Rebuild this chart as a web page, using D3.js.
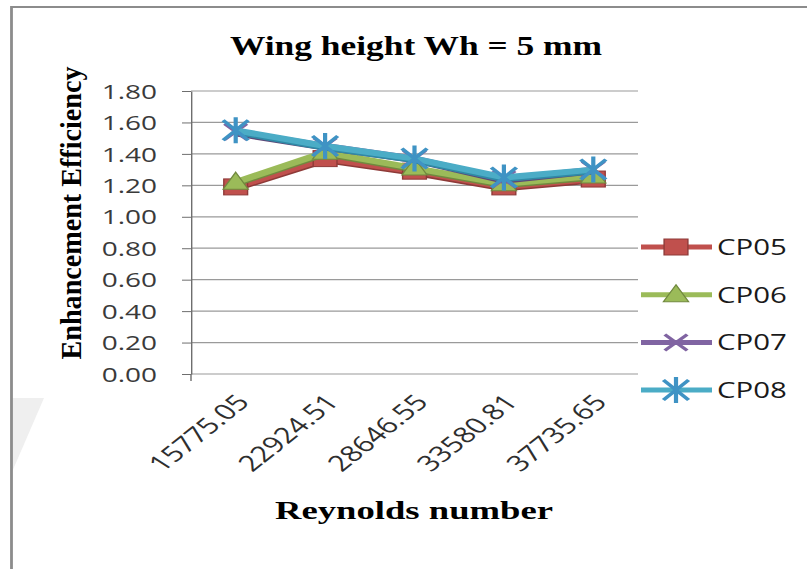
<!DOCTYPE html>
<html>
<head>
<meta charset="utf-8">
<script src="https://cdn.jsdelivr.net/npm/d3@7"></script>
<style>
  body { margin: 0; background: #fff; }
  svg { display: block; }
</style>
</head>
<body>
<div id="chart"></div>
<script>
// data
const categories = ['15775.05', '22924.51', '28646.55', '33580.81', '37735.65'];
const seriesNames = ['CP05', 'CP06', 'CP07', 'CP08'];
const cp05 = [1.19, 1.37, 1.29, 1.19, 1.24];
const cp06 = [1.22, 1.41, 1.31, 1.21, 1.26];
const cp07 = [1.54, 1.45, 1.37, 1.24, 1.30];
const cp08 = [1.55, 1.45, 1.37, 1.25, 1.30];
const yTicks = [0, 0.2, 0.4, 0.6, 0.8, 1.0, 1.2, 1.4, 1.6, 1.8];

const colors = ['#c0504d', '#9bbb59', '#8064a2', '#4bacc6'];
const darker = ['#8e3a38', '#71893f', '#5c4878', '#2f8aa6'];
const markers = ['square', 'triangle', 'cross', 'star'];

const width = 807;
const height = 569;
// the original picture is stretched sideways, so draw narrow and let the viewBox stretch it
const K = 1.4;
const fx = v => v / K;

const svg = d3.select('#chart')
  .append('svg')
  .attr('width', width)
  .attr('height', height)
  .attr('viewBox', `0 0 ${width / K} ${height}`)
  .attr('preserveAspectRatio', 'none');

svg.append('rect')
  .attr('width', width / K).attr('height', height)
  .attr('fill', '#fff');

// faint page shading at bottom left
svg.append('path')
  .attr('d', `M${fx(12)},398L${fx(44)},398L${fx(12)},472Z`)
  .attr('fill', '#efefef');

// chart frame (open to the right and bottom, like the crop)
svg.append('path')
  .attr('d', `M${fx(11.5)},${height + 5}L${fx(11.5)},7L${width / K + 5},7`)
  .attr('fill', 'none')
  .attr('stroke', '#8c8c8c')
  .attr('stroke-width', 2);

const plot = { left: fx(191), right: fx(638), top: 91, bottom: 374 };

const x = d3.scaleBand().domain(categories).range([plot.left, plot.right]);
const y = d3.scaleLinear().domain([0, 1.8]).range([plot.bottom, plot.top]);
const cx = c => x(c) + x.bandwidth() / 2;

// gridlines
svg.append('g')
  .selectAll('line')
  .data(yTicks)
  .join('line')
    .attr('x1', plot.left).attr('x2', plot.right)
    .attr('y1', d => y(d)).attr('y2', d => y(d))
    .attr('stroke', '#9a9a9a')
    .attr('stroke-width', 1.2);

// y axis
const yAxis = svg.append('g')
  .attr('transform', `translate(${plot.left},0)`)
  .call(d3.axisLeft(y).tickValues(yTicks).tickFormat(d3.format('.2f')).tickSize(fx(9)).tickSizeOuter(0));
yAxis.select('.domain').attr('stroke', '#6e6e6e').attr('stroke-width', 1);
yAxis.selectAll('.tick line').attr('stroke', '#6e6e6e');
yAxis.selectAll('.tick text')
  .attr('x', -fx(34))
  .attr('dy', '0.36em')
  .attr('fill', '#3a3a3a')
  .style('font-family', '"Open Sans", sans-serif')
  .style('font-size', '20px');

// x axis (labels only, the bottom gridline is the axis line)
const xAxis = svg.append('g')
  .attr('transform', `translate(0,${plot.bottom})`)
  .call(d3.axisBottom(x).tickSize(0));
xAxis.select('.domain').remove();
xAxis.selectAll('.tick text')
  .attr('x', 0).attr('y', 0).attr('dy', '0.35em')
  .attr('text-anchor', 'end')
  .attr('transform', `translate(${fx(7)},24) rotate(-48)`)
  .attr('fill', '#2e2e2e')
  .style('font-family', '"Open Sans", sans-serif')
  .style('font-size', '22px');

// small tick below the y axis
svg.append('line')
  .attr('x1', plot.left).attr('x2', plot.left)
  .attr('y1', plot.bottom).attr('y2', plot.bottom + 7)
  .attr('stroke', '#6e6e6e');

function drawMarker(g, kind, color, dark) {
  if (kind === 'square') {
    g.append('rect')
      .attr('x', -8.5).attr('y', -8).attr('width', 17).attr('height', 16)
      .attr('fill', color).attr('stroke', dark).attr('stroke-width', 1);
  } else if (kind === 'triangle') {
    g.append('path')
      .attr('d', 'M0,-10L9,7L-9,7Z')
      .attr('fill', color).attr('stroke', dark).attr('stroke-width', 1);
  } else if (kind === 'cross') {
    g.append('path')
      .attr('d', 'M-8,-8L8,8M-8,8L8,-8')
      .attr('stroke', color).attr('stroke-width', 2.8).attr('fill', 'none');
  } else {
    g.append('path')
      .attr('d', 'M-9,-10L9,10M-9,10L9,-10M0,-13L0,13')
      .attr('stroke', '#3f93c4').attr('stroke-width', 3).attr('fill', 'none');
  }
}

const allSeries = [cp05, cp06, cp07, cp08];
const line = d3.line()
  .x((d, i) => cx(categories[i]))
  .y(d => y(d));

allSeries.forEach((vals, s) => {
  const g = svg.append('g').attr('class', 'series');
  g.append('path')
    .attr('d', line(vals))
    .attr('transform', 'translate(0,1.3)')
    .attr('fill', 'none')
    .attr('stroke', darker[s])
    .attr('stroke-width', 6.5)
    .attr('stroke-linejoin', 'round');
  g.append('path')
    .attr('d', line(vals))
    .attr('fill', 'none')
    .attr('stroke', colors[s])
    .attr('stroke-width', 6)
    .attr('stroke-linejoin', 'round');
  vals.forEach((v, i) => {
    const m = g.append('g').attr('transform', `translate(${cx(categories[i])},${y(v)})`);
    drawMarker(m, markers[s], colors[s], darker[s]);
  });
});

// legend
const legend = svg.append('g');
seriesNames.forEach((name, s) => {
  const ly = 247 + s * 47.7;
  const row = legend.append('g');
  row.append('line')
    .attr('x1', fx(641)).attr('x2', fx(712))
    .attr('y1', ly).attr('y2', ly)
    .attr('stroke', colors[s]).attr('stroke-width', 5);
  const m = row.append('g').attr('transform', `translate(${fx(676)},${ly})`);
  drawMarker(m, markers[s], colors[s], darker[s]);
  row.append('text')
    .attr('x', fx(717)).attr('y', ly + 8)
    .attr('fill', '#1a1a1a')
    .style('font-family', '"Open Sans", sans-serif')
    .style('font-size', '21px')
    .text(name);
});

// titles
svg.append('text')
  .attr('x', fx(416)).attr('y', 55)
  .attr('text-anchor', 'middle')
  .attr('textLength', fx(372)).attr('lengthAdjust', 'spacingAndGlyphs')
  .style('font-family', '"Liberation Serif", serif')
  .style('font-weight', 'bold')
  .style('font-size', '27px')
  .text('Wing height Wh = 5 mm');

svg.append('text')
  .attr('x', fx(414)).attr('y', 519)
  .attr('text-anchor', 'middle')
  .attr('textLength', fx(278)).attr('lengthAdjust', 'spacingAndGlyphs')
  .style('font-family', '"Liberation Serif", serif')
  .style('font-weight', 'bold')
  .style('font-size', '25px')
  .text('Reynolds number');

svg.append('text')
  .attr('transform', `translate(${fx(81)},213) rotate(-90)`)
  .attr('text-anchor', 'middle')
  .attr('textLength', 293).attr('lengthAdjust', 'spacingAndGlyphs')
  .style('font-family', '"Liberation Serif", serif')
  .style('font-weight', 'bold')
  .style('font-size', '21px')
  .text('Enhancement Efficiency');
</script>
</body>
</html>
